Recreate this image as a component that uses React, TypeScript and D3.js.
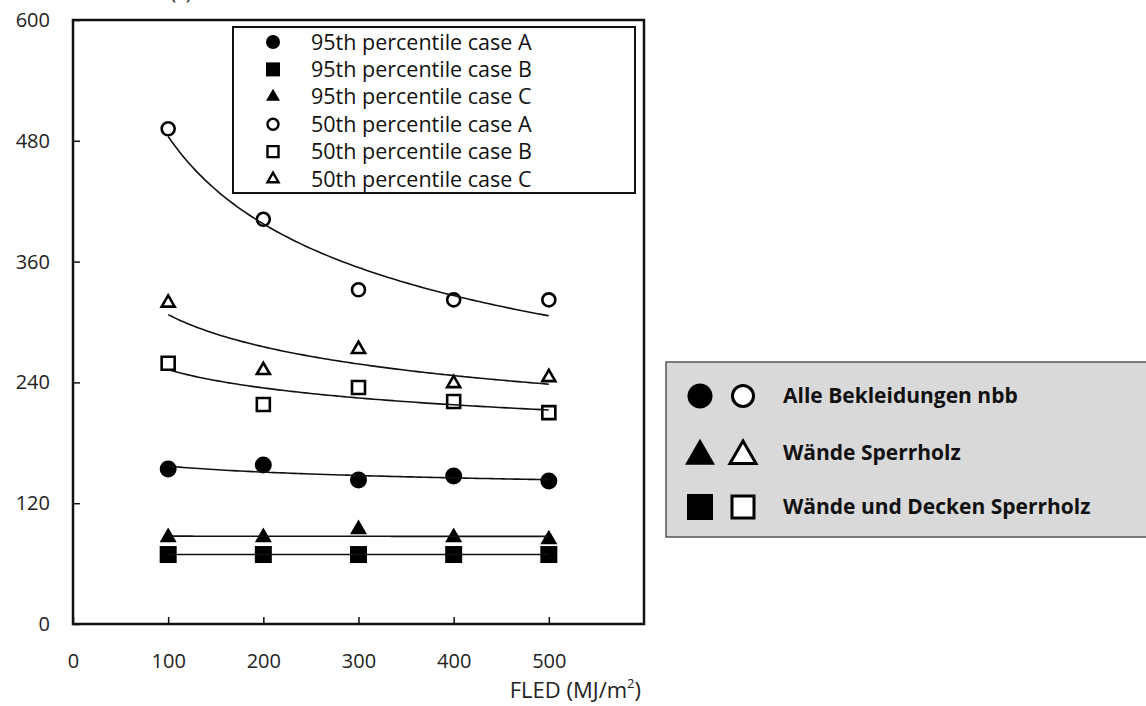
import React, { useEffect, useRef } from "react"
import * as d3 from "d3"

// Data
const fled = [100, 200, 300, 400, 500]
const p95A = [154, 158, 143, 147, 142]
const p95B = [69, 69, 69, 69, 69]
const p95C = [86, 86, 94, 86, 84]
const p50A = [492, 402, 332, 322, 322]
const p50B = [259, 218, 235, 221, 210]
const p50C = [319, 252, 273, 239, 245]

const xTicks = [0, 100, 200, 300, 400, 500]
const yTicks = [0, 120, 240, 360, 480, 600]

const legendLabels = [
  "95th percentile case A",
  "95th percentile case B",
  "95th percentile case C",
  "50th percentile case A",
  "50th percentile case B",
  "50th percentile case C",
]
const groupLabels = ["Alle Bekleidungen nbb", "Wände Sperrholz", "Wände und Decken Sperrholz"]

const FONT = "'Open Sans', 'Noto Sans', sans-serif"

// least squares fit of y = a * x^b
function powerFit(xs: number[], ys: number[]) {
  const lx = xs.map(Math.log)
  const ly = ys.map(Math.log)
  const mx = d3.mean(lx) as number
  const my = d3.mean(ly) as number
  const b = d3.sum(lx.map((v, i) => (v - mx) * (ly[i] - my))) / d3.sum(lx.map(v => (v - mx) ** 2))
  const a = Math.exp(my - b * mx)
  return (x: number) => a * Math.pow(x, b)
}

type Shape = "circle" | "square" | "triangle"

function symbolPath(shape: Shape, s: number) {
  // s = overall width of the mark
  if (shape === "circle") return d3.symbol(d3.symbolCircle, Math.PI * (s / 2) ** 2)()
  if (shape === "square") return d3.symbol(d3.symbolSquare, s * s)()
  return d3.symbol(d3.symbolTriangle, (Math.sqrt(3) / 4) * s * s)()
}

const series = [
  { values: p95A, shape: "circle" as Shape, filled: true },
  { values: p95B, shape: "square" as Shape, filled: true },
  { values: p95C, shape: "triangle" as Shape, filled: true },
  { values: p50A, shape: "circle" as Shape, filled: false },
  { values: p50B, shape: "square" as Shape, filled: false },
  { values: p50C, shape: "triangle" as Shape, filled: false },
]

export default function App() {
  const ref = useRef<SVGSVGElement>(null)

  useEffect(() => {
    const svg = d3.select(ref.current)
    svg.selectAll("*").remove()

    // Dimensions
    const margin = { left: 73, right: 502, top: 20, bottom: 82 }
    const W = 1146
    const H = 706

    // Scales
    const x = d3.scaleLinear().domain([0, 600]).range([margin.left, W - margin.right])
    const y = d3.scaleLinear().domain([0, 600]).range([H - margin.bottom, margin.top])

    // axis title, cut off at the top edge as in the original
    svg.append("text")
      .attr("x", 181).attr("y", -1)
      .attr("text-anchor", "middle")
      .attr("font-family", FONT).attr("font-size", 20)
      .attr("fill", "#222")
      .text("(s)")

    // frame
    svg.append("rect")
      .attr("x", x(0)).attr("y", y(600))
      .attr("width", x(600) - x(0)).attr("height", y(0) - y(600))
      .attr("fill", "none").attr("stroke", "#111").attr("stroke-width", 2.5)

    // Axes
    const xAxis = d3.axisBottom(x).tickValues(xTicks).tickSize(-7).tickPadding(30)
    const gx = svg.append("g").attr("transform", `translate(0,${y(0)})`).call(xAxis)
    const yAxis = d3.axisLeft(y).tickValues(yTicks).tickSize(-7).tickPadding(23)
    const gy = svg.append("g").attr("transform", `translate(${x(0)},0)`).call(yAxis)
    for (const g of [gx, gy]) {
      g.select(".domain").remove()
      g.selectAll("line").attr("stroke", "#111").attr("stroke-width", 1.5)
      g.selectAll("text")
        .attr("font-family", FONT).attr("font-size", 20).attr("fill", "#222")
    }

    svg.append("text")
      .attr("x", 641).attr("y", 698)
      .attr("text-anchor", "end")
      .attr("font-family", FONT).attr("font-size", 22).attr("fill", "#222")
      .call(t => {
        t.append("tspan").text("FLED (MJ/m")
        t.append("tspan").attr("font-size", 13).attr("dy", -10).text("2")
        t.append("tspan").attr("dy", 10).text(")")
      })

    // Data marks
    series.forEach(s => {
      svg.append("g").selectAll("path")
        .data(s.values)
        .enter()
        .append("path")
        .attr("transform", (d, i) => `translate(${x(fled[i])},${y(d)})`)
        .attr("d", symbolPath(s.shape, s.filled ? 17 : 13))
        .attr("fill", s.filled ? "#000" : "none")
        .attr("stroke", "#000")
        .attr("stroke-width", s.filled ? 0 : 2.6)
    })

    // Trend lines
    const xs = d3.range(100, 500.1, 4)
    const line = d3.line<number[]>().x(d => x(d[0])).y(d => y(d[1]))
    series.forEach(s => {
      const f = powerFit(fled, s.values)
      svg.append("path")
        .attr("d", line(xs.map(v => [v, f(v)])))
        .attr("fill", "none").attr("stroke", "#111").attr("stroke-width", 1.6)
    })

    // Legend (series)
    const lg = svg.append("g").attr("transform", "translate(233,27)")
    lg.append("rect").attr("width", 402).attr("height", 166)
      .attr("fill", "#fff").attr("stroke", "#111").attr("stroke-width", 2)
    series.forEach((s, i) => {
      const row = lg.append("g").attr("transform", `translate(40,${15 + i * 27.4})`)
      row.append("path")
        .attr("d", symbolPath(s.shape, s.filled ? 14 : 11))
        .attr("fill", s.filled ? "#000" : "none")
        .attr("stroke", "#000").attr("stroke-width", s.filled ? 0 : 2.4)
      row.append("text")
        .attr("x", 38).attr("dy", "0.35em")
        .attr("font-family", FONT).attr("font-size", 21.5).attr("fill", "#111")
        .text(legendLabels[i])
    })

    // Legend (groups)
    const gg = svg.append("g").attr("transform", "translate(666,362)")
    gg.append("rect").attr("width", 520).attr("height", 175)
      .attr("fill", "#d9d9d9").attr("stroke", "#555").attr("stroke-width", 1.5)
    const groupShapes: Shape[] = ["circle", "triangle", "square"]
    groupShapes.forEach((shape, i) => {
      const row = gg.append("g").attr("transform", `translate(0,${[34, 91, 145][i]})`)
      const sz = shape === "triangle" ? 30 : shape === "circle" ? 25 : 26
      row.append("path").attr("transform", `translate(34,${shape === "triangle" ? 3 : 0})`)
        .attr("d", symbolPath(shape, sz)).attr("fill", "#000")
      row.append("path").attr("transform", `translate(77,${shape === "triangle" ? 3 : 0})`)
        .attr("d", symbolPath(shape, sz - 4))
        .attr("fill", "#fff").attr("stroke", "#000").attr("stroke-width", 3)
      row.append("text")
        .attr("x", 117).attr("dy", "0.35em")
        .attr("font-family", FONT).attr("font-size", 21).attr("font-weight", "bold").attr("fill", "#111")
        .text(groupLabels[i])
    })
  }, [])

  return (
    <svg
      ref={ref}
      width={1146}
      height={706}
      style={{ position: "absolute", left: 0, top: 0, background: "#fff" }}
    />
  )
}
